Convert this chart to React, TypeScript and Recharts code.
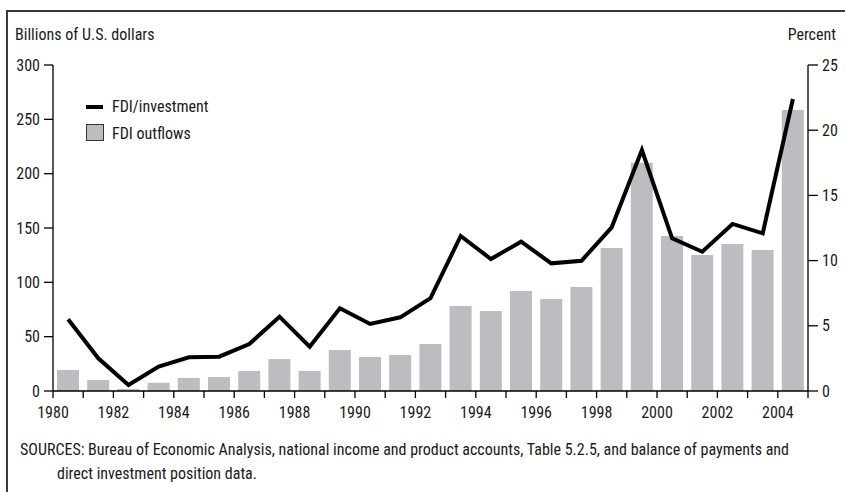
import { ComposedChart, Bar, Line, XAxis, YAxis, Legend } from "recharts";

const FONT = "'Liberation Sans Narrow', 'Arial Narrow', 'Roboto Condensed', sans-serif";
const INK = "#1a1a1a";
const BAR_FILL = "#bcbdc1";

// one entry per year
const years = [
  1980, 1981, 1982, 1983, 1984, 1985, 1986, 1987, 1988, 1989, 1990, 1991, 1992,
  1993, 1994, 1995, 1996, 1997, 1998, 1999, 2000, 2001, 2002, 2003, 2004,
];

// FDI outflows, billions of U.S. dollars (left axis)
const outflows = [
  19.3, 10.1, 1.8, 7.6, 12.0, 12.9, 18.4, 29.4, 18.4, 37.7, 31.3, 33.1, 43.2,
  78.2, 73.6, 92.0, 84.7, 95.7, 131.6, 210.1, 142.6, 125.1, 135.3, 129.7, 258.6,
];

// FDI as share of investment, percent (right axis)
const fdiShare = [
  5.5, 2.51, 0.46, 1.87, 2.58, 2.63, 3.6, 5.7, 3.4, 6.34, 5.14, 5.65, 7.12,
  11.89, 10.12, 11.45, 9.79, 9.99, 12.55, 18.48, 11.71, 10.68, 12.81, 12.09, 22.39,
];

// year boundaries carry the ticks, even years get a label
const xTicks = [
  1980, 1981, 1982, 1983, 1984, 1985, 1986, 1987, 1988, 1989, 1990, 1991, 1992,
  1993, 1994, 1995, 1996, 1997, 1998, 1999, 2000, 2001, 2002, 2003, 2004, 2005,
];
const leftTicks = [0, 50, 100, 150, 200, 250, 300];
const rightTicks = [0, 5, 10, 15, 20, 25];

const data = years.map((year, i) => ({
  x: year + 0.5,
  outflows: outflows[i],
  share: fdiShare[i],
}));

const tickStyle = { fontSize: 16, fill: INK, fontFamily: FONT };
const axisStroke = { stroke: "#000", strokeWidth: 1.3 };

const LegendBox = () => (
  <svg width={140} height={50} style={{ overflow: "visible" }}>
    <line x1={0} y1={9} x2={17} y2={9} stroke="#000" strokeWidth={4} />
    <text x={26} y={14} fontSize={16} fill={INK} fontFamily={FONT}>
      FDI/investment
    </text>
    <rect x={0.5} y={26.5} width={17} height={16} fill={BAR_FILL} stroke="#333" strokeWidth={1} />
    <text x={26} y={41} fontSize={16} fill={INK} fontFamily={FONT}>
      FDI outflows
    </text>
  </svg>
);

export default function App() {
  return (
    <div
      style={{
        position: "absolute",
        left: 0,
        top: 0,
        width: 845,
        height: 492,
        background: "#fff",
        overflow: "hidden",
        fontFamily: FONT,
      }}
    >
      <div
        style={{
          position: "absolute",
          left: 6,
          top: 10,
          width: 860,
          height: 500,
          borderLeft: "2px solid #3a3a3a",
          borderTop: "2px solid #3a3a3a",
        }}
      />
      <svg width={845} height={492} style={{ position: "absolute", left: 0, top: 0 }}>
        <text x={15} y={40} fontSize={16} fill={INK} fontFamily={FONT}>
          Billions of U.S. dollars
        </text>
        <text x={836} y={40} fontSize={16} fill={INK} fontFamily={FONT} textAnchor="end">
          Percent
        </text>
        <text x={20} y={455} fontSize={16} fill={INK} fontFamily={FONT}>
          SOURCES: Bureau of Economic Analysis, national income and product accounts, Table 5.2.5, and balance of payments and
        </text>
        <text x={57} y={479} fontSize={16} fill={INK} fontFamily={FONT}>
          direct investment position data.
        </text>
      </svg>
      <div style={{ position: "absolute", left: 0, top: 0 }}>
        <ComposedChart
          width={845}
          height={492}
          data={data}
          margin={{ top: 65, right: 0, left: 0, bottom: 71 }}
        >
          <XAxis
            dataKey="x"
            type="number"
            domain={[1980, 2005]}
            ticks={xTicks}
            interval={0}
            height={30}
            tickSize={7}
            tickMargin={9}
            tick={tickStyle}
            axisLine={axisStroke}
            tickLine={axisStroke}
            tickFormatter={(v: number) => (v % 2 === 0 && v < 2005 ? String(v) : "")}
            allowDataOverflow
          />
          <YAxis
            yAxisId="left"
            orientation="left"
            domain={[0, 300]}
            ticks={leftTicks}
            interval={0}
            width={53}
            tickSize={9}
            tickMargin={4}
            tick={tickStyle}
            axisLine={axisStroke}
            tickLine={axisStroke}
          />
          <YAxis
            yAxisId="right"
            orientation="right"
            domain={[0, 25]}
            ticks={rightTicks}
            interval={0}
            width={37}
            tickSize={10}
            tickMargin={4}
            tick={tickStyle}
            axisLine={axisStroke}
            tickLine={axisStroke}
          />
          <Legend
            layout="horizontal"
            verticalAlign="middle"
            align="center"
            wrapperStyle={{ left: 86, top: 98, width: 140, height: 50 }}
            content={() => <LegendBox />}
          />
          <Bar
            yAxisId="left"
            dataKey="outflows"
            name="FDI outflows"
            fill={BAR_FILL}
            barSize={22}
            isAnimationActive={false}
          />
          <Line
            yAxisId="right"
            dataKey="share"
            name="FDI/investment"
            type="linear"
            stroke="#000"
            strokeWidth={4}
            strokeLinejoin="miter"
            dot={false}
            activeDot={false}
            isAnimationActive={false}
          />
        </ComposedChart>
      </div>
    </div>
  );
}
